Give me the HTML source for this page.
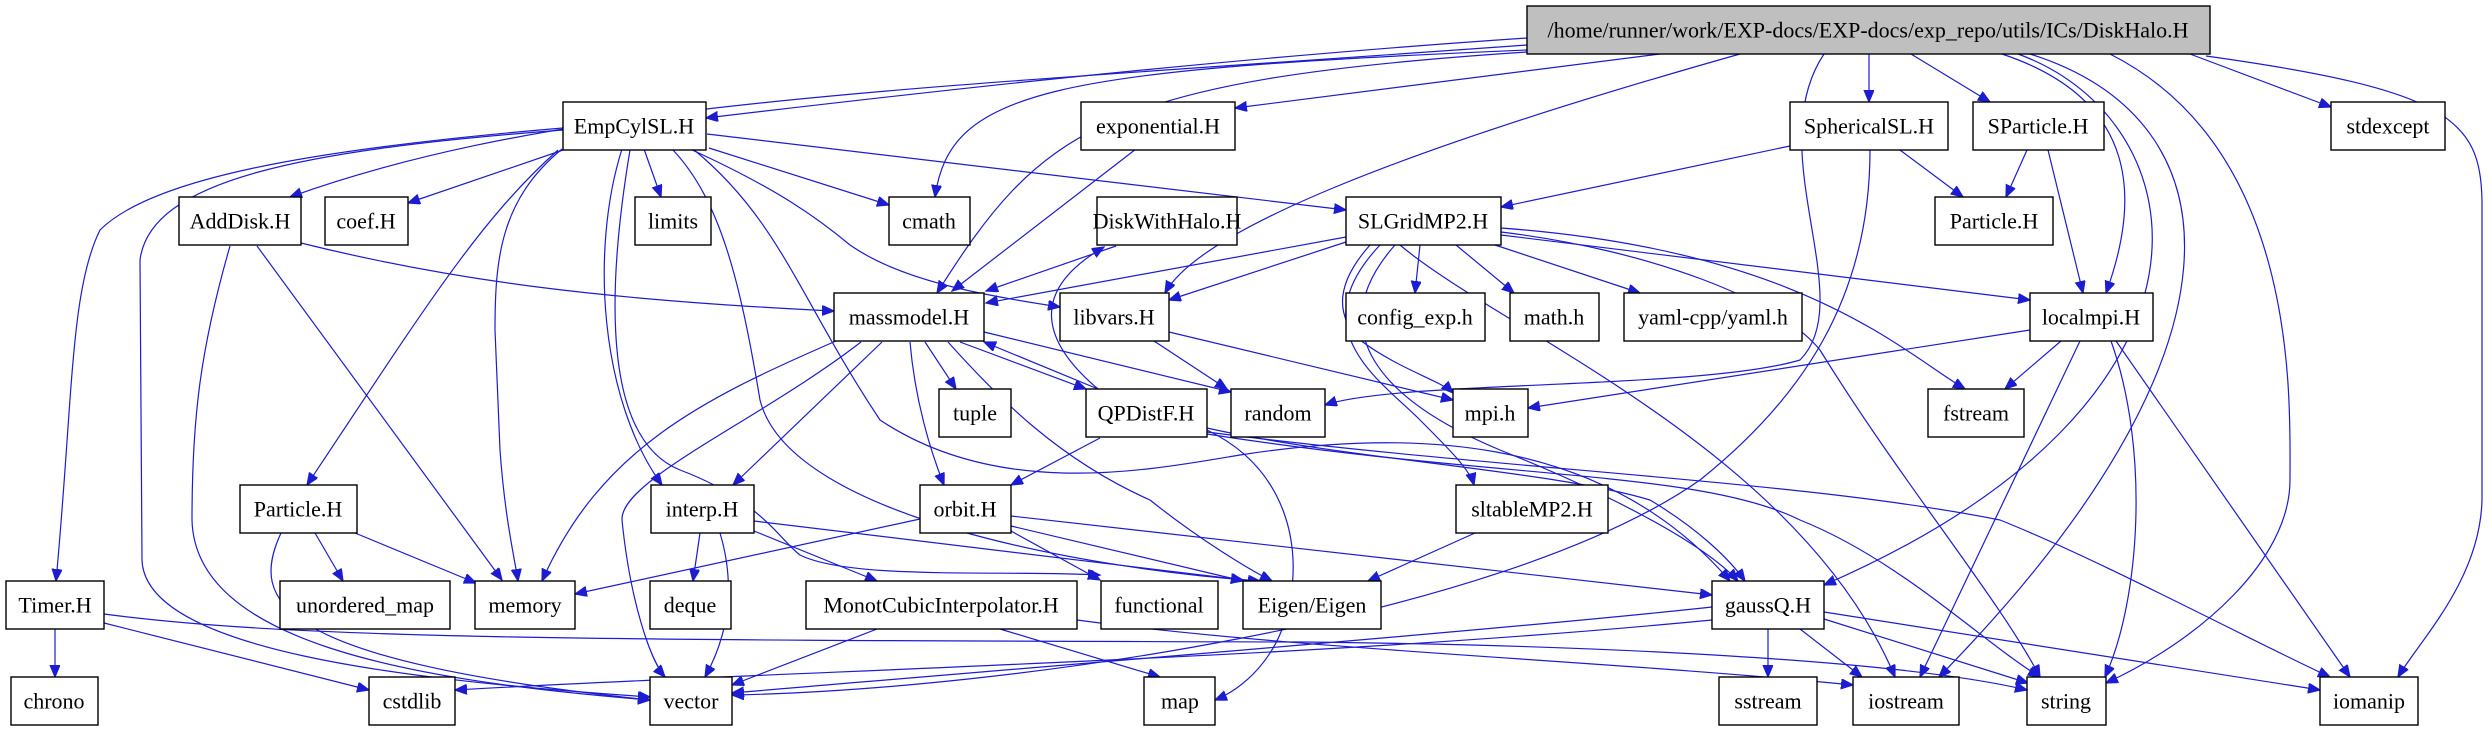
<!DOCTYPE html>
<html><head><meta charset="utf-8"><style>
html,body{margin:0;padding:0;background:#fff}
svg{display:block}
text{font-family:"Liberation Serif",serif;font-size:22px;fill:#000;text-anchor:middle;dominant-baseline:central}
rect{fill:#fff;stroke:#000;stroke-width:1.4}
path{fill:none;stroke:#1c1cd0;stroke-width:1.2}
</style></head><body>
<svg width="2492" height="731" viewBox="0 0 2492 731" xmlns="http://www.w3.org/2000/svg">
<defs><marker id="a" markerUnits="userSpaceOnUse" markerWidth="14" markerHeight="12" refX="12" refY="5" orient="auto"><path d="M0,0 L12,5 L0,10 Z" style="fill:#1c1cd0;stroke:#1c1cd0"/></marker></defs>
<g marker-end="url(#a)">
<!-- top -->
<path d="M1527,38 C1200,60 900,95 706,118"/>
<path d="M1527,45 C900,90 560,100 290,197"/>
<path d="M1527,50 C1050,70 950,90 935,197"/>
<path d="M1527,52 C1100,80 1040,130 937,293"/>
<path d="M1660,54 L1235,108"/>
<path d="M1740,54 C1400,150 1200,230 1165,293"/>
<path d="M1824,54 C1760,150 1860,300 1800,360 C1700,390 1400,380 1325,405"/>
<path d="M1869,54 L1869,102"/>
<path d="M1911,54 L1990,102"/>
<path d="M2002,54 C2140,100 2140,200 2106,293"/>
<path d="M2018,54 C2200,120 2250,400 1824,585"/>
<path d="M2030,54 C2240,120 2260,350 1939,677"/>
<path d="M2110,54 C2300,150 2290,400 2290,480 C2290,560 2200,640 2106,683"/>
<path d="M2190,54 L2331,107"/>
<path d="M2206,56 C2450,90 2480,120 2482,200 L2482,500 C2480,580 2420,640 2398,677"/>
<!-- EmpCylSL -->
<path d="M566,149 L408,203"/>
<path d="M644,149 L661,197"/>
<path d="M709,148 L889,205"/>
<path d="M690,149 C780,190 820,220 850,245 C900,280 980,295 1060,307"/>
<path d="M707,134 L1346,210"/>
<path d="M562,149 C500,200 495,260 495,330 L500,450 C505,520 515,560 518,581"/>
<path d="M558,150 C480,220 430,300 307,485"/>
<path d="M622,149 C590,250 600,400 662,485"/>
<path d="M630,150 C605,300 605,440 680,470 C760,500 780,540 800,555 C850,580 1000,570 1100,575"/>
<path d="M673,150 C720,200 740,280 760,400 C790,520 1100,570 1260,581"/>
<path d="M693,149 C780,220 800,300 880,420 C1000,500 1150,470 1240,455 C1400,430 1600,430 1730,581"/>
<path d="M563,128 C300,150 150,180 100,230 C70,290 73,400 56,581"/>
<path d="M563,130 C300,150 150,180 140,260 L142,560 C145,650 400,680 650,697"/>
<!-- AddDisk -->
<path d="M301,243 C450,280 600,300 834,311"/>
<path d="M257,246 L502,580"/>
<path d="M230,246 C200,350 192,420 192,520 C195,640 400,680 650,700"/>
<path d="M1136,149 L952,291"/>
<path d="M1116,246 L986,291"/>
<path d="M1098,389 C1040,340 1030,290 1104,247"/>
<!-- SLGridMP2 -->
<path d="M1346,237 L986,303"/>
<path d="M1346,242 L1169,300"/>
<path d="M1420,245 L1415,293"/>
<path d="M1456,245 L1514,293"/>
<path d="M1495,245 L1640,293"/>
<path d="M1501,235 L2030,300"/>
<path d="M1370,245 C1330,290 1340,320 1360,340 C1400,370 1440,380 1453,393"/>
<path d="M1380,245 C1300,330 1380,380 1420,420 C1450,450 1470,470 1474,485"/>
<path d="M1395,245 C1320,330 1380,400 1500,450 C1600,490 1700,540 1738,581"/>
<path d="M1400,245 C1500,330 1800,450 1895,677"/>
<path d="M1501,228 C1800,250 1900,350 1965,389"/>
<path d="M1501,232 C1650,250 1780,300 1820,350 C1900,480 2000,600 2040,677"/>
<path d="M2027,150 L2006,197"/>
<path d="M2048,150 L2083,293"/>
<path d="M1790,146 L1501,207"/>
<path d="M1900,150 L1963,197"/>
<path d="M1870,150 C1870,300 1800,400 1700,480 C1500,620 1000,690 732,695"/>
<!-- massmodel -->
<path d="M836,341 C700,400 600,450 542,581"/>
<path d="M861,342 C760,420 620,480 622,520 C630,600 650,660 665,677"/>
<path d="M882,342 L733,485"/>
<path d="M910,342 C915,400 930,450 944,485"/>
<path d="M925,342 L956,389"/>
<path d="M960,342 L1086,389"/>
<path d="M1098,389 L984,342"/>
<path d="M984,332 L1231,392"/>
<path d="M948,342 C1000,400 1060,460 1150,500 C1200,540 1250,570 1272,581"/>
<path d="M1154,341 L1227,389"/>
<path d="M1169,332 L1453,400"/>
<!-- localmpi -->
<path d="M2030,330 L1528,408"/>
<path d="M2061,341 L2005,389"/>
<path d="M2080,341 L1920,677"/>
<path d="M2111,341 C2150,450 2140,600 2105,677"/>
<path d="M2116,341 L2350,677"/>
<!-- QPDistF -->
<path d="M1100,438 L1011,485"/>
<path d="M1207,430 C1290,470 1300,550 1290,600 C1280,660 1240,690 1215,700"/>
<path d="M1207,428 C1350,460 1550,470 1650,500 C1700,530 1730,560 1745,581"/>
<path d="M1207,434 C1500,480 1700,470 1800,520 C1900,560 1980,640 2040,677"/>
<path d="M1207,432 C1500,470 1800,480 2000,520 C2100,560 2250,640 2330,677"/>
<!-- orbit -->
<path d="M920,519 L575,594"/>
<path d="M1011,531 L1100,580"/>
<path d="M1011,526 L1243,581"/>
<path d="M1011,516 L1712,595"/>
<!-- interp -->
<path d="M700,533 L693,581"/>
<path d="M720,533 C740,600 720,650 705,677"/>
<path d="M754,531 L877,581"/>
<path d="M754,521 L1243,580"/>
<!-- Particle L -->
<path d="M315,533 L343,581"/>
<path d="M355,533 L476,583"/>
<path d="M281,533 C250,600 270,660 650,700"/>
<!-- Timer -->
<path d="M55,629 L55,677"/>
<path d="M104,623 L369,690"/>
<path d="M104,614 C300,640 600,640 1300,642 C1600,645 1900,660 2027,690"/>
<!-- Monot -->
<path d="M877,629 L732,685"/>
<path d="M1000,629 L1160,677"/>
<path d="M1077,620 C1300,650 1600,660 1853,685"/>
<path d="M1475,533 L1368,581"/>
<!-- gaussQ -->
<path d="M1768,629 L1768,677"/>
<path d="M1800,629 L1862,677"/>
<path d="M1824,619 L2028,683"/>
<path d="M1824,612 L2320,690"/>
<path d="M1712,607 C1500,630 1000,670 732,693"/>
<path d="M1712,620 C1300,660 800,670 455,690"/>
</g>
<!-- nodes -->
<rect x="1527" y="6" width="683" height="48" style="fill:#bfbfbf"/><text x="1868" y="30">/home/runner/work/EXP-docs/EXP-docs/exp_repo/utils/ICs/DiskHalo.H</text>
<rect x="563" y="102" width="143" height="48"/><text x="634" y="126">EmpCylSL.H</text>
<rect x="1081" y="102" width="154" height="48"/><text x="1158" y="126">exponential.H</text>
<rect x="1790" y="102" width="158" height="48"/><text x="1869" y="126">SphericalSL.H</text>
<rect x="1973" y="102" width="131" height="48"/><text x="2038" y="126">SParticle.H</text>
<rect x="2331" y="102" width="114" height="48"/><text x="2388" y="126">stdexcept</text>
<rect x="179" y="197" width="122" height="48"/><text x="240" y="221">AddDisk.H</text>
<rect x="325" y="197" width="83" height="48"/><text x="366" y="221">coef.H</text>
<rect x="635" y="197" width="76" height="48"/><text x="673" y="221">limits</text>
<rect x="889" y="197" width="81" height="48"/><text x="929" y="221">cmath</text>
<rect x="1097" y="197" width="140" height="48"/><text x="1167" y="221">DiskWithHalo.H</text>
<rect x="1346" y="197" width="155" height="48"/><text x="1423" y="221">SLGridMP2.H</text>
<rect x="1935" y="197" width="118" height="48"/><text x="1994" y="221">Particle.H</text>
<rect x="834" y="293" width="150" height="48"/><text x="909" y="317">massmodel.H</text>
<rect x="1060" y="293" width="109" height="48"/><text x="1114" y="317">libvars.H</text>
<rect x="1346" y="293" width="139" height="48"/><text x="1415" y="317">config_exp.h</text>
<rect x="1510" y="293" width="89" height="48"/><text x="1554" y="317">math.h</text>
<rect x="1624" y="293" width="178" height="48"/><text x="1713" y="317">yaml-cpp/yaml.h</text>
<rect x="2030" y="293" width="123" height="48"/><text x="2091" y="317">localmpi.H</text>
<rect x="939" y="389" width="72" height="48"/><text x="975" y="413">tuple</text>
<rect x="1086" y="389" width="121" height="48"/><text x="1146" y="413">QPDistF.H</text>
<rect x="1231" y="389" width="94" height="48"/><text x="1278" y="413">random</text>
<rect x="1453" y="389" width="75" height="48"/><text x="1490" y="413">mpi.h</text>
<rect x="1928" y="389" width="96" height="48"/><text x="1976" y="413">fstream</text>
<rect x="240" y="485" width="117" height="48"/><text x="298" y="509">Particle.H</text>
<rect x="651" y="485" width="103" height="48"/><text x="702" y="509">interp.H</text>
<rect x="920" y="485" width="91" height="48"/><text x="965" y="509">orbit.H</text>
<rect x="1456" y="485" width="152" height="48"/><text x="1532" y="509">sltableMP2.H</text>
<rect x="6" y="581" width="98" height="48"/><text x="55" y="605">Timer.H</text>
<rect x="280" y="581" width="170" height="48"/><text x="365" y="605">unordered_map</text>
<rect x="475" y="581" width="100" height="48"/><text x="525" y="605">memory</text>
<rect x="650" y="581" width="81" height="48"/><text x="690" y="605">deque</text>
<rect x="806" y="581" width="271" height="48"/><text x="941" y="605">MonotCubicInterpolator.H</text>
<rect x="1101" y="581" width="117" height="48"/><text x="1159" y="605">functional</text>
<rect x="1243" y="581" width="138" height="48"/><text x="1312" y="605">Eigen/Eigen</text>
<rect x="1712" y="581" width="112" height="48"/><text x="1768" y="605">gaussQ.H</text>
<rect x="11" y="677" width="87" height="48"/><text x="54" y="701">chrono</text>
<rect x="369" y="677" width="86" height="48"/><text x="412" y="701">cstdlib</text>
<rect x="650" y="677" width="82" height="48"/><text x="691" y="701">vector</text>
<rect x="1144" y="677" width="71" height="48"/><text x="1180" y="701">map</text>
<rect x="1719" y="677" width="98" height="48"/><text x="1768" y="701">sstream</text>
<rect x="1853" y="677" width="106" height="48"/><text x="1906" y="701">iostream</text>
<rect x="2027" y="677" width="79" height="48"/><text x="2066" y="701">string</text>
<rect x="2320" y="677" width="98" height="48"/><text x="2369" y="701">iomanip</text>
</svg>
</body></html>
